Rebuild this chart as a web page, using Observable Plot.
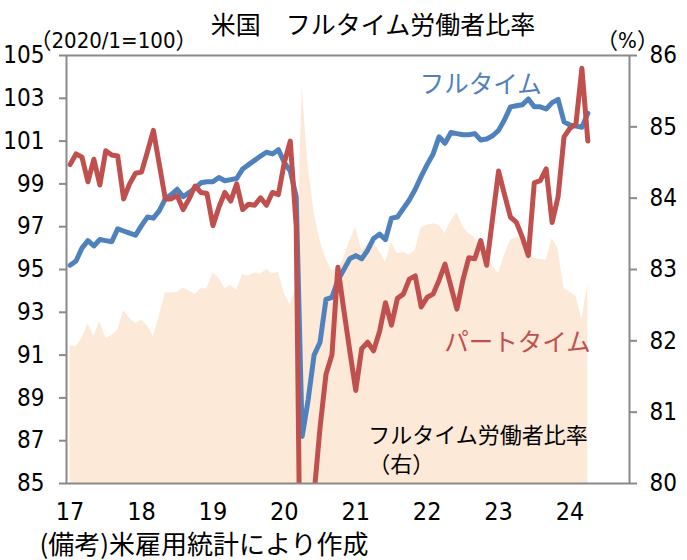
<!DOCTYPE html>
<html>
<head>
<meta charset="utf-8">
<script src="https://cdn.jsdelivr.net/npm/d3@7"></script>
<script src="https://cdn.jsdelivr.net/npm/@observablehq/plot@0.6"></script>
<style>
  html, body { margin: 0; padding: 0; background: #fff; }
  svg { display: block; }
</style>
</head>
<body>
<div id="chart"></div>
<script>
// Monthly, Jan 2017 .. Apr 2024
const startYear = 2017;
const fullTime = [
  95.2, 95.4, 96.0, 96.35, 96.1, 96.4, 96.35, 96.3, 96.9, 96.8, 96.7, 96.6,
  97.05, 97.45, 97.4, 97.75, 98.3, 98.5, 98.75, 98.4, 98.6, 98.8, 99.05, 99.1,
  99.1, 99.3, 99.15, 99.2, 99.25, 99.7, 99.9, 100.1, 100.3, 100.48, 100.4, 100.6,
  100.0, 99.6, 98.4, 87.2, 88.9, 91.0, 91.6, 93.6, 93.7, 94.5, 95.0, 95.5,
  95.65, 95.5, 95.9, 96.45, 96.65, 96.4, 97.4, 97.45, 97.85, 98.25, 98.75, 99.35,
  99.9, 100.4, 101.2, 100.9, 101.4, 101.35, 101.3, 101.3, 101.35, 101.05, 101.1, 101.25,
  101.5, 102.0, 102.6, 102.65, 102.7, 102.97, 102.6, 102.6, 102.5, 102.8, 102.95, 101.9,
  101.75, 101.7, 101.65, 102.3
];
const partTime = [
  99.9, 100.4, 100.25, 99.1, 100.15, 98.95, 100.55, 100.35, 100.3, 98.3, 99.0, 99.5,
  99.55, 100.5, 101.5, 99.9, 98.3, 98.3, 98.45, 97.8, 98.3, 98.9, 98.6, 98.55,
  97.05, 97.9, 98.6, 98.2, 99.0, 97.8, 98.05, 98.0, 98.35, 98.0, 98.6, 98.5,
  100.0, 101.0, 97.0, 72.0, 78.0, 84.5, 87.6, 90.1, 91.0, 95.1, 93.1, 91.2,
  89.35, 91.3, 91.6, 91.2, 92.1, 93.45, 92.4, 93.65, 93.85, 94.55, 94.7, 93.25,
  93.7, 93.85, 94.5, 95.25, 94.2, 93.15, 94.5, 95.55, 95.5, 96.35, 95.2, 97.4,
  99.6, 98.5, 97.45, 97.2, 96.5, 95.65, 99.05, 99.15, 99.7, 97.2, 98.4, 101.2,
  101.6, 101.8, 104.4, 101.0
];
const fullTimeRatio = [
  81.93, 81.92, 82.03, 82.24, 82.06, 82.27, 82.04, 82.07, 82.15, 82.42, 82.32, 82.24,
  82.29, 82.21, 82.06, 82.34, 82.67, 82.67, 82.68, 82.74, 82.7, 82.65, 82.73, 82.73,
  82.95, 82.88, 82.73, 82.78, 82.71, 82.93, 82.91, 82.95, 82.93, 83.0, 82.94, 82.96,
  82.66, 82.5, 82.78, 85.55, 84.45, 83.8, 83.4, 83.15, 82.98, 83.0, 83.15, 83.4,
  83.59, 83.27, 83.35, 83.38, 83.25, 83.1, 83.38, 83.22, 83.24, 83.2, 83.27, 83.59,
  83.62, 83.64, 83.62, 83.5, 83.68, 83.8, 83.6, 83.5, 83.45, 83.3, 83.17, 83.05,
  82.94, 83.2, 83.41, 83.45, 83.45, 83.25, 83.15, 83.14, 83.13, 83.43, 83.29, 82.73,
  82.68, 82.62, 82.3, 82.8
];
const yearLabels = ["17", "18", "19", "20", "21", "22", "23", "24"];
const leftTicks = [85, 87, 89, 91, 93, 95, 97, 99, 101, 103, 105];
const rightTicks = [80, 81, 82, 83, 84, 85, 86];
const titleText = "米国　フルタイム労働者比率";
const leftUnit = "（2020/1=100）";
const rightUnit = "（%）";
const captionText = "(備考)米雇用統計により作成";
const seriesLabels = [
  {m: 69, v: 103.6, text: "フルタイム", color: "#4f81bd"},
  {m: 75.2, v: 91.57, text: "パートタイム", color: "#c0504d"}
];
const areaLabel = {m: 50.1, v: 86.64, text: "フルタイム労働者比率\n（右）"};

// scales: left 85..105, right 80..86 mapped onto left
const L0 = 85, L1 = 105, R0 = 80, R1 = 86;
const toLeft = r => L0 + (r - R0) * (L1 - L0) / (R1 - R0);
const fromLeft = v => R0 + (v - L0) * (R1 - R0) / (L1 - L0);

const data = fullTime.map((v, i) => ({
  m: i, full: v, part: partTime[i], ratio: toLeft(fullTimeRatio[i])
}));
const yearTicks = yearLabels.map((d, k) => k * 12);

const numFont = "'Liberation Sans Narrow', 'DejaVu Sans Condensed', 'Liberation Sans', sans-serif";
const jpFont = "'Noto Sans CJK JP', sans-serif";
const mixFont = "'Liberation Sans Narrow', 'DejaVu Sans Condensed', 'Noto Sans CJK JP', sans-serif";

const chart = Plot.plot({
  width: 687,
  height: 560,
  marginLeft: 66,
  marginRight: 58,
  marginTop: 55,
  marginBottom: 77,
  style: {background: "#fff", overflow: "visible"},
  x: {domain: [-0.6, 94.0], axis: null},
  y: {domain: [L0, L1], axis: null},
  marks: [
    Plot.areaY(data, {x: "m", y1: L0, y2: "ratio", fill: "#fde9d8", curve: "linear"}),
    Plot.line(data, {x: "m", y: "full", stroke: "#4f81bd", strokeWidth: 5, strokeLinejoin: "round", clip: true}),
    Plot.line(data, {x: "m", y: "part", stroke: "#c0504d", strokeWidth: 5, strokeLinejoin: "round", clip: true}),
    Plot.frame({stroke: "#8a8a8a", strokeWidth: 2}),
    // left axis
    Plot.axisY(leftTicks, {anchor: "left", tickSize: 7, tickFormat: () => "", color: "#8a8a8a", strokeWidth: 2, label: null}),
    Plot.axisY(leftTicks, {anchor: "left", tickSize: 0, tickPadding: 22, fontSize: 24, fontFamily: numFont, color: "#000", label: null}),
    // right axis
    Plot.axisY(rightTicks.map(toLeft), {anchor: "right", tickSize: 7, tickFormat: () => "", color: "#8a8a8a", strokeWidth: 2, label: null}),
    Plot.axisY(rightTicks.map(toLeft), {anchor: "right", tickSize: 0, tickPadding: 20, fontSize: 24, fontFamily: numFont, color: "#000", label: null,
      tickFormat: d => String(Math.round(fromLeft(d)))}),
    // x axis
    Plot.axisX(yearTicks, {anchor: "bottom", tickSize: 0, tickPadding: 19, fontSize: 25, fontFamily: numFont, color: "#000", label: null,
      tickFormat: (d) => yearLabels[Math.round(d / 12)]}),
    // title / units / caption
    Plot.text([titleText], {frameAnchor: "top", dx: 25, dy: -30, lineAnchor: "middle", fontSize: 25, fontFamily: jpFont, fill: "#000"}),
    Plot.text([leftUnit], {frameAnchor: "top-left", textAnchor: "start", dx: -37, dy: -15, lineAnchor: "middle", fontSize: 22, fontFamily: mixFont, fill: "#000"}),
    Plot.text([rightUnit], {frameAnchor: "top-right", textAnchor: "middle", dx: -2, dy: -15, lineAnchor: "middle", fontSize: 22, fontFamily: mixFont, fill: "#000"}),
    Plot.text([captionText], {frameAnchor: "bottom-left", textAnchor: "start", dx: -27, dy: 62, lineAnchor: "middle", fontSize: 26, fontFamily: jpFont, fill: "#000"}),
    // series labels
    Plot.text(seriesLabels, {x: "m", y: "v", text: "text", fill: "color", fontSize: 24.5, fontFamily: jpFont}),
    Plot.text([areaLabel], {x: "m", y: "v", text: "text", textAnchor: "start", lineAnchor: "middle", lineHeight: 1.3, fontSize: 22, fontFamily: jpFont, fill: "#000"})
  ]
});
document.getElementById("chart").appendChild(chart);
</script>
</body>
</html>
